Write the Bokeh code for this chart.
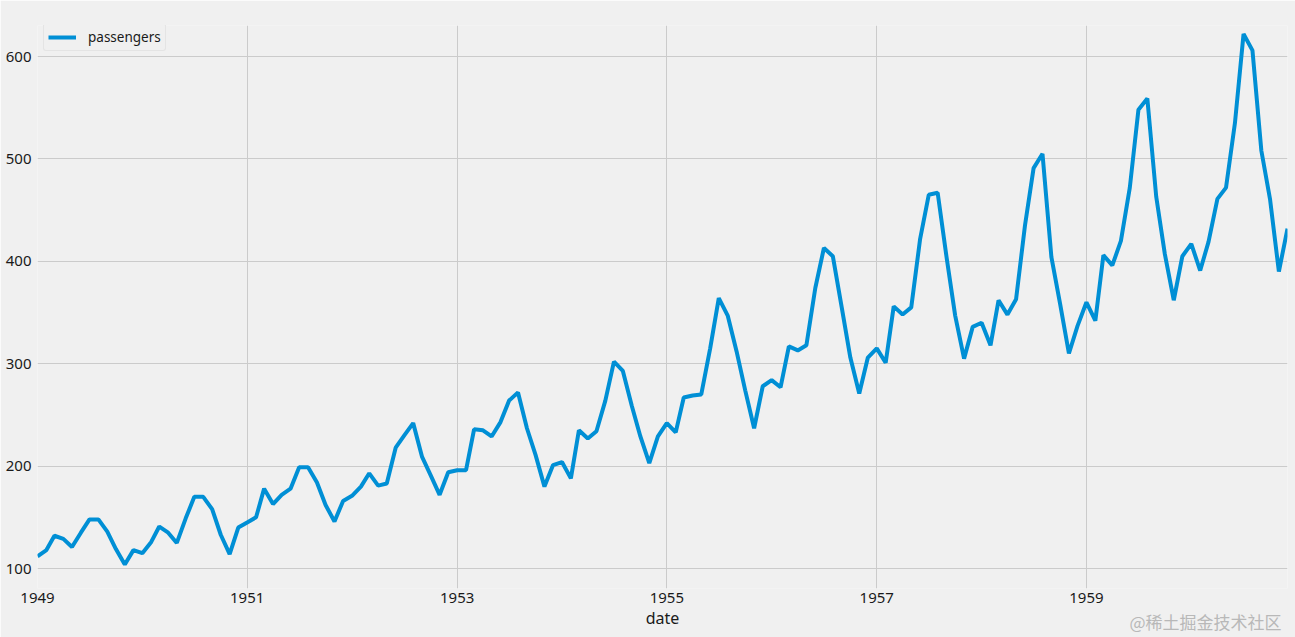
import datetime as dt
from bokeh.plotting import figure
from bokeh.models import ColumnDataSource, FixedTicker, DatetimeTickFormatter, Range1d, Label, Legend, LegendItem
from bokeh.embed import file_html
from bokeh.resources import INLINE

years = list(range(1949, 1961))
passengers = [
    112, 118, 132, 129, 121, 135, 148, 148, 136, 119, 104, 118,
    115, 126, 141, 135, 125, 149, 170, 170, 158, 133, 114, 140,
    145, 150, 178, 163, 172, 178, 199, 199, 184, 162, 146, 166,
    171, 180, 193, 181, 183, 218, 230, 242, 209, 191, 172, 194,
    196, 196, 236, 235, 229, 243, 264, 272, 237, 211, 180, 201,
    204, 188, 235, 227, 234, 264, 302, 293, 259, 229, 203, 229,
    242, 233, 267, 269, 270, 315, 364, 347, 312, 274, 237, 278,
    284, 277, 317, 313, 318, 374, 413, 405, 355, 306, 271, 306,
    315, 301, 356, 348, 355, 422, 465, 467, 404, 347, 305, 336,
    340, 318, 362, 348, 363, 435, 491, 505, 404, 359, 310, 337,
    360, 342, 406, 396, 420, 472, 548, 559, 463, 407, 362, 405,
    417, 391, 419, 461, 472, 535, 622, 606, 508, 461, 390, 432,
]
dates = [dt.datetime(y, m, 1) for y in years for m in range(1, 13)]
tick_years = [1949, 1951, 1953, 1955, 1957, 1959]
y_ticks = [100, 200, 300, 400, 500, 600]

def ms(d):
    return (d - dt.datetime(1970, 1, 1)).total_seconds() * 1000.0

src = ColumnDataSource(dict(date=dates, passengers=passengers))

BG = "#f0f0f0"
FONT = "Noto Sans"

p = figure(width=1295, height=637, x_axis_type="datetime",
           output_backend="svg", toolbar_location=None,
           x_range=Range1d(dates[0], dates[-1]), y_range=Range1d(80.5, 630.3),
           background_fill_color=BG, border_fill_color=BG,
           min_border_left=37, min_border_right=8, min_border_top=25, min_border_bottom=49)
p.outline_line_color = None

r = p.line("date", "passengers", source=src, line_color="#008fd5", line_width=4)

p.xaxis.ticker = FixedTicker(ticks=[ms(dt.datetime(y, 1, 1)) for y in tick_years])
p.xaxis.formatter = DatetimeTickFormatter(years="%Y", months="%Y", days="%Y")
p.yaxis.ticker = FixedTicker(ticks=y_ticks)
for ax in (p.xaxis, p.yaxis):
    ax.axis_line_color = None
    ax.major_tick_line_color = None
    ax.minor_tick_line_color = None
    ax.major_tick_out = 0
    ax.major_tick_in = 0
    ax.minor_tick_out = 0
    ax.major_label_text_font = FONT
    ax.major_label_text_font_size = "15px"
    ax.major_label_text_color = "#1a1a1a"
p.xaxis.major_label_standoff = 4
p.yaxis.major_label_standoff = 6
p.xaxis.axis_label = "date"
p.xaxis.axis_label_text_font = FONT
p.xaxis.axis_label_text_font_size = "16px"
p.xaxis.axis_label_text_font_style = "normal"
p.xaxis.axis_label_text_color = "#1a1a1a"
p.xaxis.axis_label_standoff = 1

p.grid.grid_line_color = "#cbcbcb"
p.grid.grid_line_width = 1

legend = Legend(items=[LegendItem(label="passengers", renderers=[r])],
                location=(6, 537), background_fill_color=BG, background_fill_alpha=1,
                border_line_color="#d8d8d8", border_line_width=1, border_radius=3,
                label_text_font=FONT, label_text_font_size="13.5px", label_text_color="#1a1a1a",
                glyph_width=28, glyph_height=16, padding=4, margin=0, spacing=0,
                label_standoff=12)
p.add_layout(legend)

wm = Label(x=1129, y=621, x_units="canvas", y_units="canvas", text="@稀土掘金技术社区",
           text_font="Noto Sans CJK SC", text_font_size="17px", text_color="#b8b8b8",
           text_baseline="middle", level="overlay")
p.add_layout(wm, "above")

open("out.html", "w").write(file_html(p, INLINE))
